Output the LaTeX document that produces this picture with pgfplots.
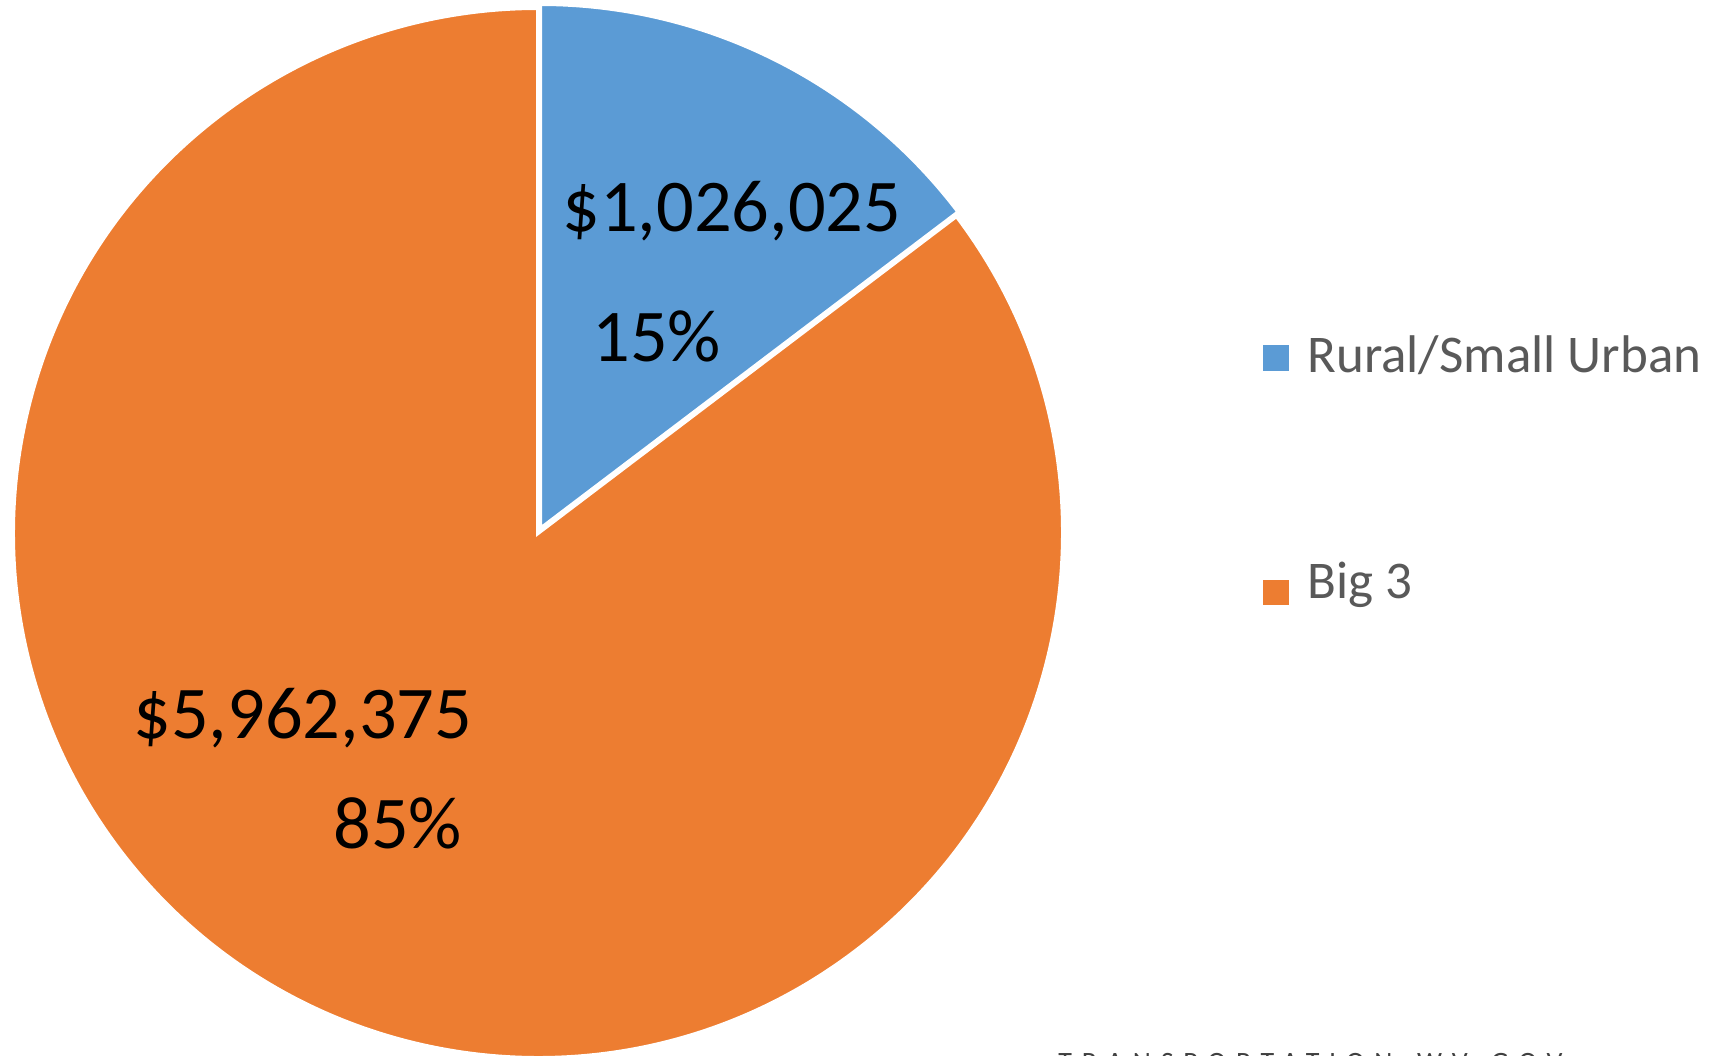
\documentclass[border=0pt]{standalone}
\usepackage{pgfplots}
\pgfplotsset{compat=1.18}
\usepackage{pgfplotstable}
\usepackage{fontspec}
\setmainfont{Carlito}
\definecolor{blueC}{HTML}{5B9BD5}
\definecolor{orangeC}{HTML}{ED7D31}
\definecolor{legtext}{HTML}{595959}
\definecolor{wmtext}{HTML}{404040}

\pgfplotstableread{
label value
Rural 1026025
Big3 5962375
}\datatable
\pgfplotstablegetelem{0}{value}\of\datatable \let\va\pgfplotsretval
\pgfplotstablegetelem{1}{value}\of\datatable \let\vb\pgfplotsretval
\pgfkeys{/pgf/fpu=true,/pgf/fpu/output format=fixed}
\pgfmathparse{360*\va/(\va+\vb)}\global\let\angA\pgfmathresult
\pgfkeys{/pgf/fpu=false}
\pgfmathsetmacro\endA{90-\angA}

\begin{document}
\begin{tikzpicture}
\begin{axis}[x=0.5pt, y=0.5pt, xmin=0, xmax=1727, ymin=0, ymax=1055,
  hide axis, clip=false]
  % Big 3 slice
  \fill[orangeC, draw=white, line width=2pt, line join=miter]
    (axis cs:538,522) -- ++(\endA:262.5pt)
    arc[start angle=\endA, end angle=-270, radius=262.5pt] -- cycle;
  % Rural/Small Urban slice (slightly exploded)
  \fill[blueC, draw=white, line width=2pt, line join=miter]
    (axis cs:540,526) -- ++(90:262.5pt)
    arc[start angle=90, end angle=\endA, radius=262.5pt] -- cycle;
  % data labels
  \node[anchor=base west, inner sep=0pt, font=\fontsize{37.2}{37.2}\selectfont]
    at (axis cs:562,823) {\$1,026,025};
  \node[anchor=base west, inner sep=0pt, font=\fontsize{37.2}{37.2}\selectfont]
    at (axis cs:592,693) {15\%};
  \node[anchor=base west, inner sep=0pt, font=\fontsize{37.2}{37.2}\selectfont]
    at (axis cs:133,317) {\$5,962,375};
  \node[anchor=base west, inner sep=0pt, font=\fontsize{37.2}{37.2}\selectfont]
    at (axis cs:333,207) {85\%};
  % legend
  \fill[blueC] (axis cs:1263,684) rectangle (axis cs:1289,710);
  \node[anchor=base west, inner sep=0pt, text=legtext, font=\fontsize{26.5}{26.5}\selectfont]
    at (axis cs:1307,682) {Rural/Small Urban};
  \fill[orangeC] (axis cs:1263,450) rectangle (axis cs:1289,475);
  \node[anchor=base west, inner sep=0pt, text=legtext, font=\fontsize{26.5}{26.5}\selectfont]
    at (axis cs:1307,457) {Big 3};
\end{axis}
\node[overlay, anchor=north west, inner sep=0pt, text=wmtext,
  font=\fontsize{14}{14}\selectfont\addfontfeature{LetterSpace=35}]
  at (529pt,1pt) {TRANSPORTATION.WV.GOV};
\pgfresetboundingbox
\path[use as bounding box] (0,0) rectangle (863.5pt,527.5pt);
\end{tikzpicture}
\end{document}
